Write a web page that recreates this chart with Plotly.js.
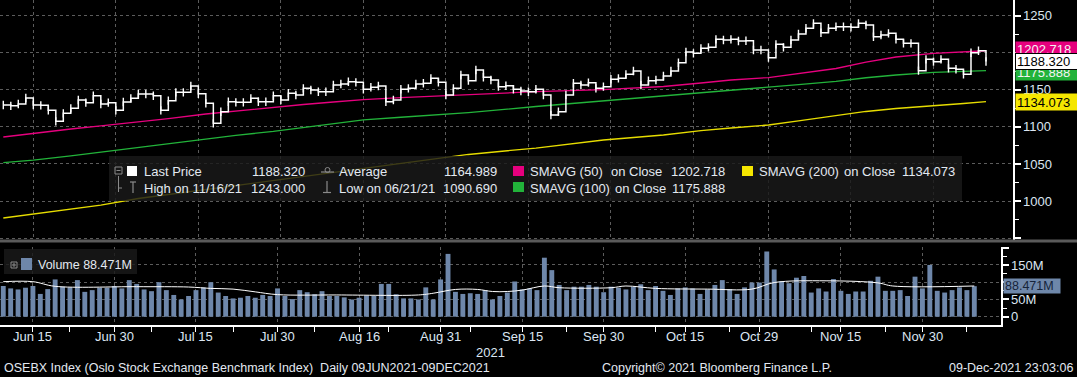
<!DOCTYPE html>
<html><head><meta charset="utf-8">
<script src="https://cdn.plot.ly/plotly-3.0.1.min.js"></script>
<style>html,body{margin:0;padding:0;background:#000;overflow:hidden}#chart{width:1077px;height:377px}</style>
</head><body><div id="chart"></div>
<script>
// ---- categories: Oslo trading days 09 Jun 2021 - 09 Dec 2021 (weekdays, no holidays in period)
const tradingDays = (function(){const out=[];const d=new Date(Date.UTC(2021,5,9));const end=Date.UTC(2021,11,9);
  while(d.getTime()<=end){const w=d.getUTCDay();if(w!==0&&w!==6)out.push(d.toISOString().slice(0,10));d.setUTCDate(d.getUTCDate()+1);}return out;})();

// ---- Last price (close), one per trading day
const lastPrice = [
1129.5,1128.4,1130.9,1139.0,1129.5,1129.1,1122.3,1107.5,1118.3,1125.0,
1136.3,1132.7,1142.1,1130.9,1132.7,1122.3,1133.6,1138.5,1144.4,1144.4,
1142.1,1122.3,1135.4,1146.6,1146.6,1155.2,1144.8,1131.8,1104.8,1120.5,
1134.0,1133.1,1133.1,1138.5,1134.0,1134.0,1142.1,1136.3,1145.3,1143.0,
1152.0,1149.8,1147.5,1147.5,1156.5,1157.8,1161.0,1160.1,1150.7,1153.4,
1155.2,1134.0,1136.3,1150.7,1152.0,1157.8,1158.8,1165.5,1160.1,1143.0,
1152.0,1170.0,1162.4,1176.7,1166.9,1163.3,1154.3,1155.6,1150.7,1148.4,
1147.5,1150.7,1143.0,1116.0,1120.5,1143.0,1158.8,1156.5,1159.7,1152.0,
1154.3,1164.2,1165.5,1170.9,1175.4,1156.5,1162.4,1163.3,1168.7,1175.4,
1186.6,1201.0,1199.2,1206.0,1207.3,1218.1,1217.2,1218.1,1215.9,1216.3,
1203.7,1203.7,1193.4,1211.4,1207.3,1217.2,1225.3,1233.0,1239.7,1227.1,
1233.0,1235.2,1235.2,1234.3,1239.7,1237.5,1221.7,1224.0,1226.2,1218.1,
1212.7,1212.7,1175.9,1191.1,1188.0,1191.1,1179.0,1177.7,1170.9,1200.1,
1202.8,1188.32];

// ---- Volume (millions), one per trading day
const volume = [
89,82,79,84,89,66,80,108,87,85,
106,72,77,84,84,89,82,106,95,79,
74,100,77,63,50,60,77,85,100,70,
60,53,55,60,55,63,60,82,60,51,
77,71,65,74,60,60,56,50,55,61,
60,95,95,65,53,53,50,85,50,108,
182,72,66,68,66,77,50,60,70,102,
79,82,77,171,135,92,77,87,87,92,
87,71,87,84,79,87,94,77,89,75,
63,82,85,82,66,79,92,106,80,66,
85,99,99,189,137,103,97,113,118,70,
82,73,109,75,66,73,73,104,116,75,
75,77,60,116,82,150,75,70,77,85,
77,88.471];

// ---- Moving averages (read at sample days)
const maDates = ['2021-06-09','2021-06-15','2021-06-22','2021-06-28','2021-07-05','2021-07-09','2021-07-16','2021-07-22','2021-07-29','2021-08-04','2021-08-10','2021-08-16','2021-08-23','2021-09-03','2021-09-16','2021-09-29','2021-10-11','2021-10-18','2021-10-22','2021-10-29','2021-11-04','2021-11-11','2021-11-17','2021-11-23','2021-11-30','2021-12-06','2021-12-09'];
const sma50  = [1086.4,1091.4,1097.2,1101.3,1106.6,1111.3,1117.4,1121.5,1126.8,1130.2,1133.6,1136.9,1139.6,1143.9,1147.5,1150.4,1154.5,1159.2,1163.3,1166.6,1172.0,1178.8,1187.5,1194.3,1199.3,1201.7,1202.718];
const sma100 = [1051.9,1055.3,1061.0,1066.1,1072.0,1077.6,1083.8,1088.6,1093.9,1099.0,1103.9,1109.5,1113.0,1119.3,1127.5,1135.0,1141.0,1145.5,1149.0,1153.0,1157.0,1161.5,1166.3,1170.0,1173.5,1175.0,1175.888];
const sma200 = [977.1,982.5,989.2,994.6,1003.4,1008.8,1016.2,1021.6,1028.4,1033.8,1039.2,1044.6,1050.6,1062.8,1071.5,1082.3,1089.1,1095.1,1098.5,1102.6,1108.0,1115.4,1120.8,1124.8,1128.2,1131.6,1134.073];

const volMaDates = ['2021-06-09','2021-06-15','2021-06-18','2021-07-05','2021-07-14','2021-07-19','2021-07-22','2021-07-27','2021-07-30','2021-08-11','2021-08-26','2021-08-30','2021-09-02','2021-09-07','2021-09-09','2021-09-13','2021-09-15','2021-09-20','2021-09-22','2021-10-01','2021-10-05','2021-10-11','2021-10-20','2021-10-28','2021-11-02','2021-11-11','2021-11-22','2021-11-24','2021-12-09'];
const volMa = [101.5,101.5,88,87,86,82,80,72,64,63,63,68,79,79,73,73,77,89,84,84,89,82,80,80,99,104,98,89,89];

// ---- axis labels
const tickDates  = ['2021-06-15','2021-06-30','2021-07-15','2021-07-30','2021-08-16','2021-08-31','2021-09-15','2021-09-30','2021-10-15','2021-10-29','2021-11-15','2021-11-30'];
const tickLabels = ['Jun 15','Jun 30','Jul 15','Jul 30','Aug 16','Aug 31','Sep 15','Sep 30','Oct 15','Oct 29','Nov 15','Nov 30'];
const minorDates = ['2021-06-22','2021-07-07','2021-07-22','2021-08-06','2021-08-20','2021-09-06','2021-09-23','2021-10-11','2021-10-25','2021-11-09','2021-11-23','2021-12-08'];
const priceTicks = [950,1000,1050,1100,1150,1200,1250];
const priceTickText = ['','1000','1050','1100','1150','1200','1250'];
const volTicks = [0,50,100,150,200];
const volTickText = ['0','50M','','150M',''];

// ---- legend texts
const legendLast = '1188.320', legendAvg = '1164.989', legendHigh = '1243.000', legendLow = '1090.690';
const legendS50 = '1202.718', legendS100 = '1175.888', legendS200 = '1134.073', legendVol = '88.471M';

// ---------------------------------------------------------------
const idx = tradingDays.map((d,i)=>i);
const pos = arr => arr.map(d=>tradingDays.indexOf(d));
const FONT = 'Liberation Sans, Arial, sans-serif';
const TXT = '#e3e9f1';
const AX = '#dce6f2';
const GRID = '#5c5c5c';
const W = 1013, H = 325;
const px = x => x / W, py = y => (H - y) / H;

const traces = [
  {type:'bar', x: idx, y: volume, xaxis:'x2', yaxis:'y2', width:0.66, marker:{color:'#6e87aa', line:{width:0}}, hoverinfo:'skip'},
  {type:'scatter', mode:'lines', x: pos(volMaDates), y: volMa, xaxis:'x2', yaxis:'y2', line:{color:'#ffffff', width:1, shape:'spline'}, hoverinfo:'skip'},
  {type:'scatter', mode:'lines', x: pos(maDates), y: sma200, line:{color:'#e6dc00', width:1.3}, hoverinfo:'skip'},
  {type:'scatter', mode:'lines', x: pos(maDates), y: sma100, line:{color:'#22b33a', width:1.3}, hoverinfo:'skip'},
  {type:'scatter', mode:'lines', x: pos(maDates), y: sma50, line:{color:'#e6007e', width:1.3}, hoverinfo:'skip'},
  {type:'scatter', mode:'lines+markers', x: idx, y: lastPrice, line:{color:'#ffffff', width:1.5, shape:'hv'},
   marker:{symbol:'line-ns', size:6, line:{color:'#ffffff', width:1.4}}, hoverinfo:'skip'}
];

function t(text, x, y, o){ o=o||{}; return {xref:'paper', yref:'paper', x:px(x), y:py(y), text:text, showarrow:false,
  xanchor:o.anchor||'left', yanchor:'middle', font:{family:FONT, size:o.size||13, color:o.color||TXT}}; }
function rect(x0,y0,x1,y1,fill,line){ return {type:'rect', xref:'paper', yref:'paper', x0:px(x0), x1:px(x1), y0:py(y0), y1:py(y1),
  fillcolor:fill, line:line||{width:0}, layer:'above'}; }
function seg(x0,y0,x1,y1,color,w){ return {type:'line', xref:'paper', yref:'paper', x0:px(x0), x1:px(x1), y0:py(y0), y1:py(y1),
  line:{color:color, width:w||1}, layer:'above'}; }

const ICON = '#8a8a8a';
const shapes = [
  rect(0,239.5,1077,242.5,'#5a5a5a'),
  rect(109,156,962,201,'rgba(26,26,26,0.82)'),
  rect(115,167,122,174,'rgba(0,0,0,0)',{color:ICON,width:1}), seg(116.5,170.5,120.5,170.5,ICON,1),
  seg(118.5,176,118.5,192,ICON,1), seg(118.5,188,122,188,ICON,1),
  rect(127,166,137,176,'#ffffff'),
  seg(130,182,136,182,ICON,1.2), seg(133,182,133,193,ICON,1.2),
  seg(321,172,334,172,ICON,1.2), {type:'circle', xref:'paper', yref:'paper', x0:px(325), x1:px(330), y0:py(167.5), y1:py(172.5), line:{color:ICON,width:1}, fillcolor:'rgba(0,0,0,0)', layer:'above'},
  seg(327,181,327,192,ICON,1.2), seg(323,192.5,331,192.5,ICON,1.2),
  rect(513,166,524,176,'#e6007e'),
  rect(513,182,524,192,'#22b33a'),
  rect(742,166,753,176,'#f5e600'),
  rect(4,249,137,274,'rgba(26,26,26,0.82)'),
  rect(11,262,17,268,'rgba(0,0,0,0)',{color:ICON,width:1}), seg(12,265,16,265,ICON,1), seg(14,263,14,267,ICON,1),
  rect(21,258,32,270,'#6e87aa')
];

const annotations = [
  t('Last Price',142,172), t(legendLast,307,172,{anchor:'right'}),
  t('Average',337,172), t(legendAvg,499,172,{anchor:'right'}),
  t('SMAVG (50)',528,172), t('on Close',609,172), t(legendS50,727,172,{anchor:'right'}),
  t('SMAVG (200)',757,172), t('on Close',842,172), t(legendS200,957,172,{anchor:'right'}),
  t('High on 11/16/21',142,188), t(legendHigh,307,188,{anchor:'right'}),
  t('Low on 06/21/21',337,188), t(legendLow,499,188,{anchor:'right'}),
  t('SMAVG (100)',528,188), t('on Close',613,188), t(legendS100,727,188,{anchor:'right'}),
  t('Volume '+legendVol,36,265,{size:12.5}),
  t('2021',490,352,{anchor:'center', size:13, color:AX}),
  t('OSEBX Index (Oslo Stock Exchange Benchmark Index)  Daily 09JUN2021-09DEC2021',2,368,{size:12.5}),
  t('Copyright\u00a9 2021 Bloomberg Finance L.P.',600,368,{size:12.5}),
  t('09-Dec-2021 23:03:06',1075,368,{anchor:'right', size:12.5}),
  {xref:'paper', yref:'y', x:px(1015), y:sma50[sma50.length-1]+1.5, text:legendS50, showarrow:false, xanchor:'left', yanchor:'middle',
   bgcolor:'#e6007e', width:60, height:13, borderpad:1, align:'left', font:{family:FONT,size:13,color:'#f4f4f4'}},
  {xref:'paper', yref:'y', x:px(1015), y:sma100[sma100.length-1]-2, text:legendS100, showarrow:false, xanchor:'left', yanchor:'middle',
   bgcolor:'#22b33a', width:60, height:13, borderpad:1, align:'left', font:{family:FONT,size:13,color:'#f4f4f4'}},
  {xref:'paper', yref:'y', x:px(1015), y:sma200[sma200.length-1], text:legendS200, showarrow:false, xanchor:'left', yanchor:'middle',
   bgcolor:'#f5e600', width:60, height:14, borderpad:1, align:'left', font:{family:FONT,size:13,color:'#000'}},
  {xref:'paper', yref:'y', x:px(1015), y:lastPrice[lastPrice.length-1], text:legendLast, showarrow:false, xanchor:'left', yanchor:'middle',
   bgcolor:'#ffffff', bordercolor:'#000', borderwidth:1, width:60, height:13, borderpad:1, align:'left', font:{family:FONT,size:13,color:'#000'}},
  {xref:'paper', yref:'y2', x:px(1003), y:volume[volume.length-1], text:legendVol, showarrow:false, xanchor:'left', yanchor:'middle',
   bgcolor:'#6e87aa', width:54, height:12, borderpad:1, align:'left', font:{family:FONT,size:12.5,color:'#16243a'}}
];
pos(tickDates).forEach((xi,k)=>annotations.push({xref:'x2', yref:'paper', x:xi, y:py(336), text:tickLabels[k], showarrow:false,
  xanchor:'center', yanchor:'middle', font:{family:FONT,size:13,color:AX}}));

const layout = {
  width:1077, height:377, paper_bgcolor:'#000', plot_bgcolor:'#000',
  margin:{l:0, r:64, t:0, b:52}, showlegend:false, hovermode:false,
  font:{family:FONT, color:TXT},
  xaxis:{domain:[0,1], anchor:'y', type:'linear', range:[-0.44,134.6], tickvals:pos(tickDates), showticklabels:false, ticks:'',
    showgrid:true, gridcolor:GRID, griddash:'3px,3px', gridwidth:1, zeroline:false, showline:false, fixedrange:true},
  yaxis:{domain:[py(239.5),1], anchor:'x', side:'right', range:[948.1,1271.2], tickvals:priceTicks, ticktext:priceTickText,
    ticks:'outside', ticklen:6, tickwidth:2, tickcolor:'#ffffff', showline:true, linecolor:'#ffffff', linewidth:1.5,
    showgrid:true, gridcolor:GRID, griddash:'3px,3px', zeroline:false, tickfont:{family:FONT,size:13,color:AX},
    minor:{tickvals:[975,1025,1075,1125,1175,1225], ticks:'outside', ticklen:4, tickwidth:1, tickcolor:'#ffffff', showgrid:false}},
  xaxis2:{domain:[0,1001/W], anchor:'y2', type:'linear', range:[-0.44,134.6], tickvals:pos(tickDates), showticklabels:false,
    ticks:'outside', ticklen:5, tickwidth:1, tickcolor:'#ffffff', showline:true, linecolor:'#ffffff', linewidth:1.5,
    showgrid:true, gridcolor:GRID, griddash:'3px,3px', zeroline:false,
    minor:{tickvals:pos(minorDates), ticks:'outside', ticklen:5, tickwidth:1, tickcolor:'#ffffff', showgrid:false}},
  yaxis2:{domain:[0,py(247)], anchor:'x2', side:'right', range:[-24.06,202], tickvals:volTicks, ticktext:volTickText,
    ticks:'outside', ticklen:6, tickwidth:2, tickcolor:'#ffffff', showline:true, linecolor:'#ffffff', linewidth:1.5,
    showgrid:true, gridcolor:GRID, griddash:'3px,3px', zeroline:false, tickfont:{family:FONT,size:13,color:AX},
    minor:{tickvals:[25,75,125,175], ticks:'outside', ticklen:4, tickwidth:1, tickcolor:'#ffffff', showgrid:false}},
  shapes: shapes,
  annotations: annotations
};

Plotly.newPlot('chart', traces, layout, {displayModeBar:false, staticPlot:true});
</script>
</body></html>
